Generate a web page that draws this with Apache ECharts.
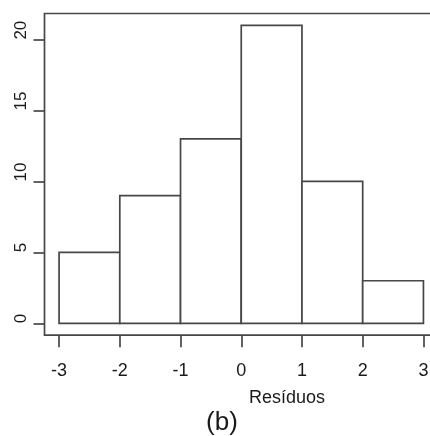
<!DOCTYPE html>
<html>
<head>
<meta charset="utf-8">
<script src="https://cdn.jsdelivr.net/npm/echarts@6/dist/echarts.min.js"></script>
<style>
html,body{margin:0;padding:0;background:#fff;}
#chart{width:430px;height:436px;}
</style>
</head>
<body>
<div id="chart"></div>
<script>
const binStarts = [-3, -2, -1, 0, 1, 2];
const binEnds = [-2, -1, 0, 1, 2, 3];
const counts = [5, 9, 13, 21, 10, 3];
const xTicks = [-3, -2, -1, 0, 1, 2, 3];
const yTicks = [0, 5, 10, 15, 20];
const xLabel = 'Resíduos';
const panelLabel = '(b)';

const FONT = '"Liberation Sans", Arial, sans-serif';
const LINE = '#474747';
const TEXT = '#1a1a1a';

const data = binStarts.map((s, i) => [s, binEnds[i], counts[i]]);

const chart = echarts.init(document.getElementById('chart'), null, {renderer: 'canvas'});
chart.setOption({
  animation: false,
  backgroundColor: '#fff',
  grid: {
    left: 44.5, top: 13.5, width: 393.5, height: 321.7,
    outerBoundsMode: 'none', containLabel: false,
    show: true, borderColor: LINE, borderWidth: 1.7, backgroundColor: 'transparent'
  },
  title: [
    {text: xLabel, left: 282, top: 384, textAlign: 'center',
     textStyle: {fontFamily: FONT, fontSize: 18, fontWeight: 'normal', color: TEXT}},
    {text: panelLabel, left: 217, top: 405, textAlign: 'center',
     textStyle: {fontFamily: FONT, fontSize: 26, fontWeight: 'normal', color: TEXT}}
  ],
  xAxis: {
    type: 'value', min: -3.24, max: 3.24,
    axisLine: {show: false, onZero: false},
    splitLine: {show: false},
    axisTick: {show: true, length: 12, inside: false, customValues: xTicks,
      lineStyle: {color: LINE, width: 1.7}},
    axisLabel: {show: true, customValues: xTicks, margin: 27,
      fontFamily: FONT, fontSize: 18, color: TEXT,
      formatter: v => String(v)}
  },
  yAxis: {
    type: 'value', min: -0.84, max: 21.84,
    axisLine: {show: false, onZero: false},
    splitLine: {show: false},
    axisTick: {show: true, length: 11, inside: false, customValues: yTicks,
      lineStyle: {color: LINE, width: 1.7}},
    axisLabel: {show: true, customValues: yTicks, margin: 23, rotate: 90,
      align: 'left', verticalAlign: 'middle',
      fontFamily: FONT, fontSize: 17, color: TEXT,
      formatter: v => String(v)}
  },
  series: [{
    type: 'custom',
    data: data,
    encode: {x: [0, 1], y: 2},
    renderItem: function (params, api) {
      const p0 = api.coord([api.value(0), 0]);
      const p1 = api.coord([api.value(1), api.value(2)]);
      return {
        type: 'rect',
        shape: {x: p0[0], y: p1[1], width: p1[0] - p0[0], height: p0[1] - p1[1]},
        style: {fill: '#fff', stroke: LINE, lineWidth: 1.7}
      };
    }
  }]
});
</script>
</body>
</html>
